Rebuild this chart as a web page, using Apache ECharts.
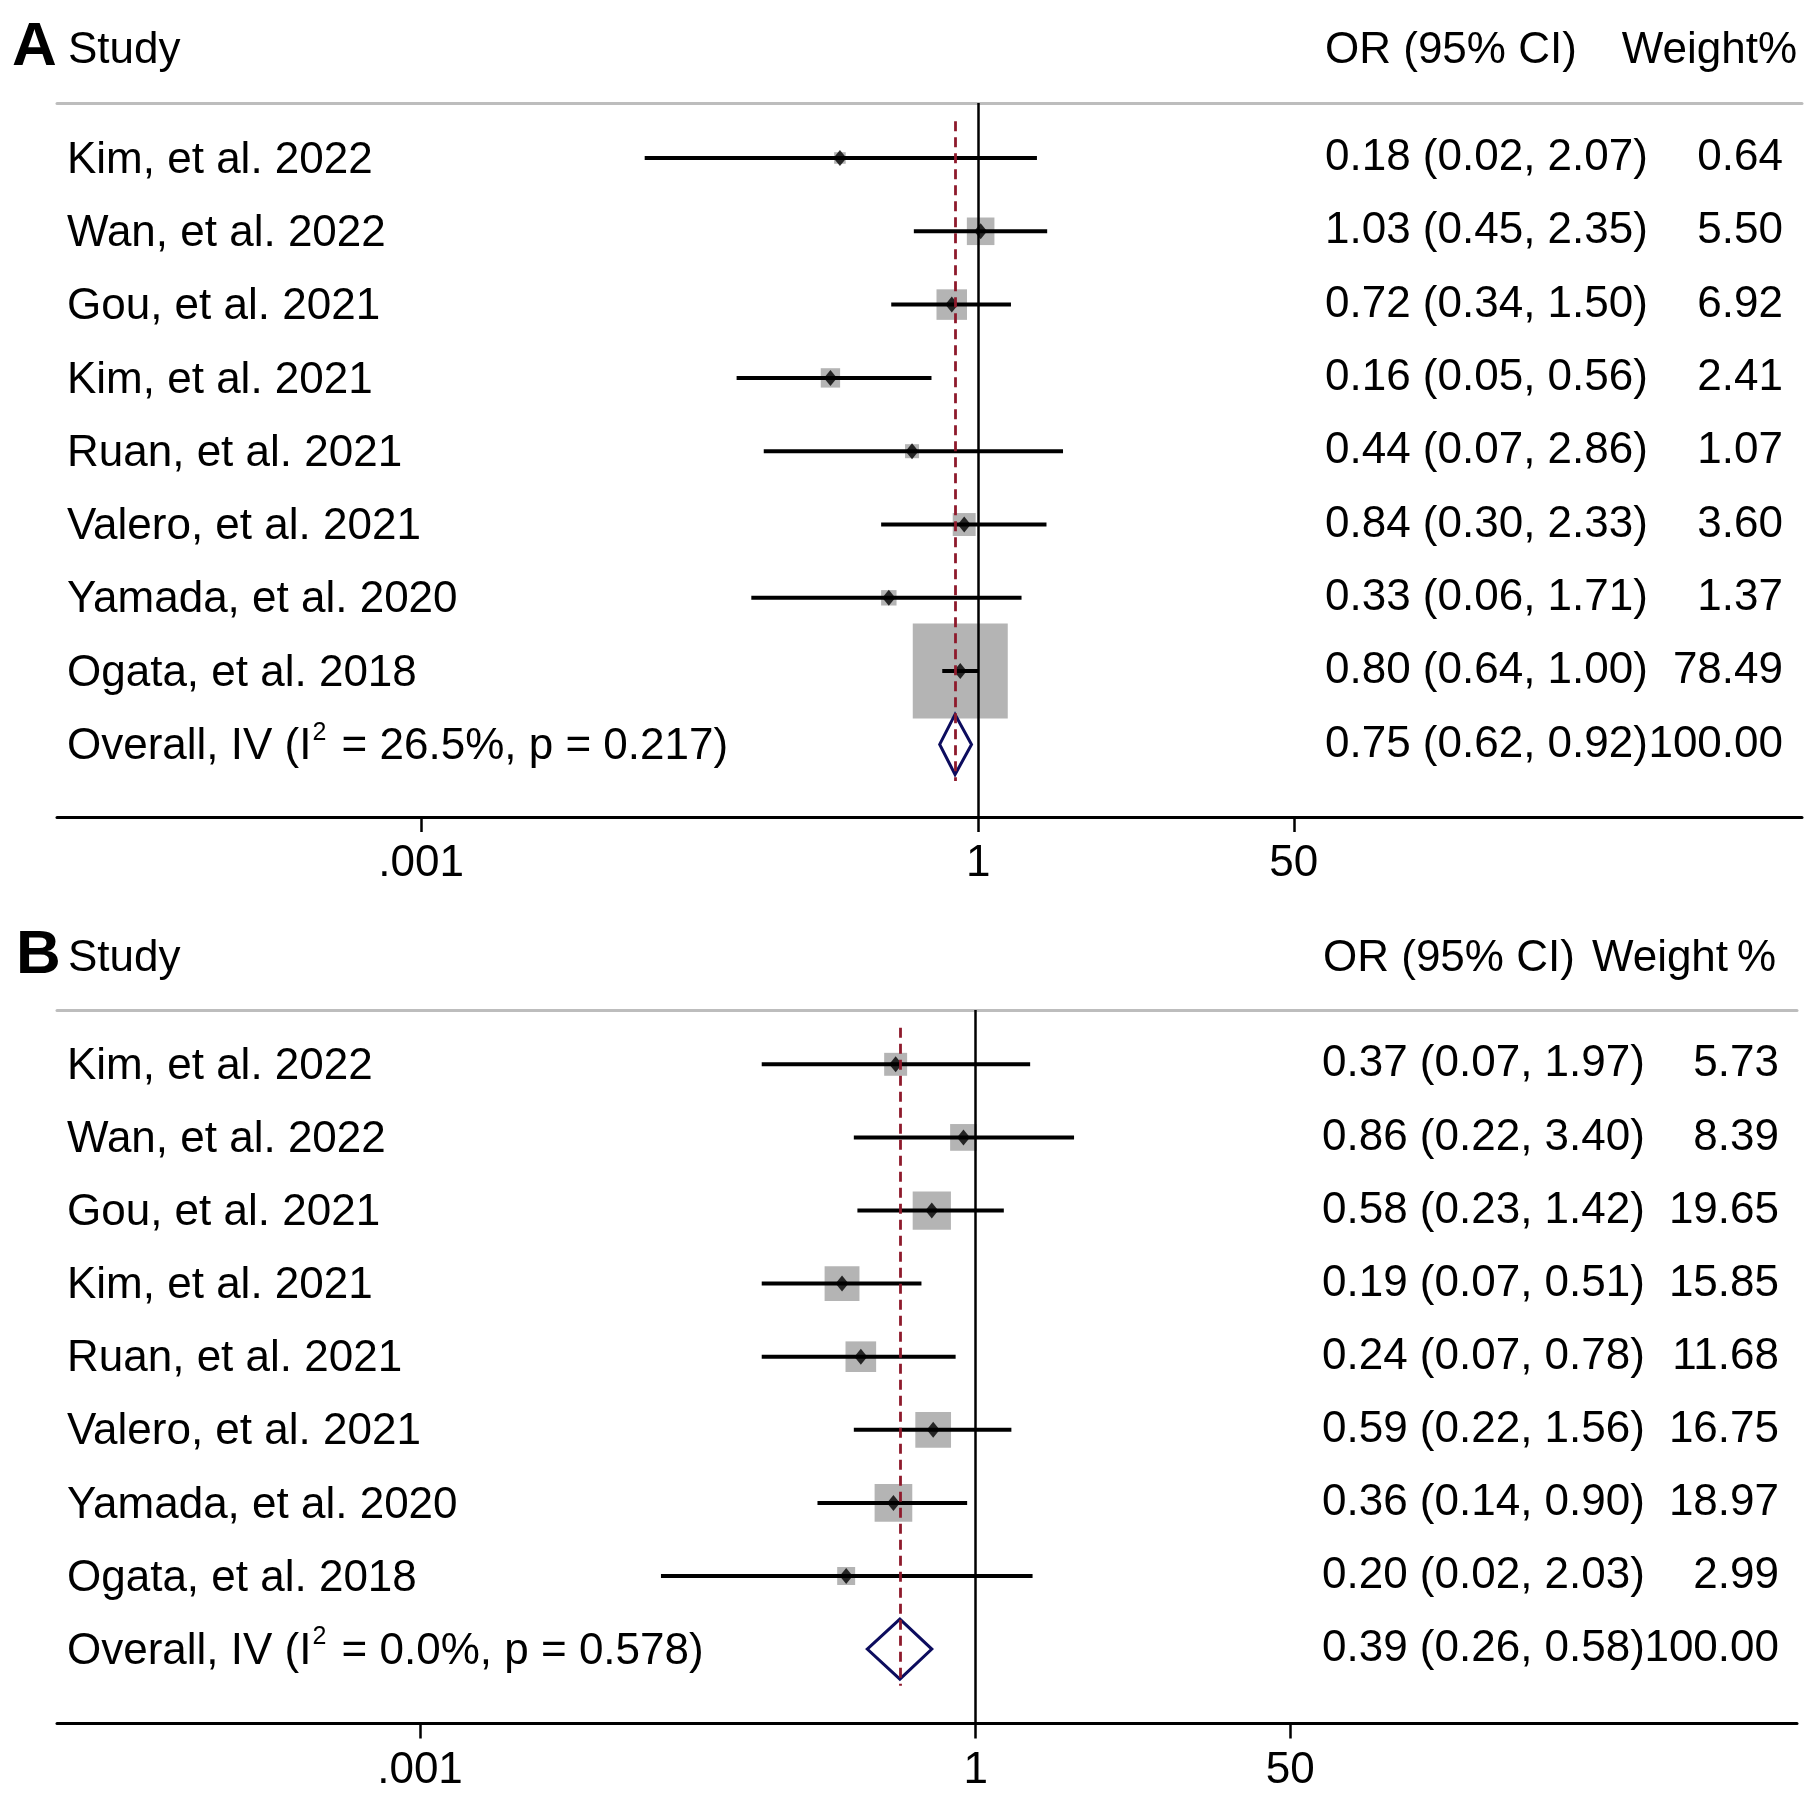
<!DOCTYPE html>
<html>
<head>
<meta charset="utf-8">
<title>Forest plot A / B</title>
<script src="https://cdn.jsdelivr.net/npm/echarts@6.0.0/dist/echarts.min.js"></script>
<style>
html, body { margin: 0; padding: 0; background: #fff; }
#chart { width: 1815px; height: 1795px; }
</style>
</head>
<body>
<div id="chart"></div>
<script>
// 研究名称 (两图共用)
const studies = ['Kim, et al. 2022', 'Wan, et al. 2022', 'Gou, et al. 2021', 'Kim, et al. 2021',
  'Ruan, et al. 2021', 'Valero, et al. 2021', 'Yamada, et al. 2020', 'Ogata, et al. 2018']

// 图 A
const orA = [0.18, 1.03, 0.72, 0.16, 0.44, 0.84, 0.33, 0.80]
const loA = [0.016, 0.45, 0.34, 0.05, 0.07, 0.30, 0.06, 0.64]
const hiA = [2.07, 2.35, 1.50, 0.56, 2.86, 2.33, 1.71, 1.00]
const weightA = [0.64, 5.50, 6.92, 2.41, 1.07, 3.60, 1.37, 78.49]
const overallA = [0.75, 0.62, 0.92]
const hetA = ['26.5%', '0.217']

// 图 B
const orB = [0.37, 0.86, 0.58, 0.19, 0.24, 0.59, 0.36, 0.20]
const loB = [0.07, 0.22, 0.23, 0.07, 0.07, 0.22, 0.14, 0.02]
const hiB = [1.97, 3.40, 1.42, 0.51, 0.78, 1.56, 0.90, 2.03]
const weightB = [5.73, 8.39, 19.65, 15.85, 11.68, 16.75, 18.97, 2.99]
const overallB = [0.39, 0.26, 0.58]
const hetB = ['0.0%', '0.578']

// x 轴刻度
const tickValues = [0.001, 1, 50]
const tickLabels = ['.001', '1', '50']

const font = "'Liberation Sans', Arial, sans-serif"
const FS = 44
const xMinLog = -4.96
const xMaxLog = 4.435

const grids = []
const xAxes = []
const yAxes = []
const series = []

function fmtTick (v) {
  let k = tickValues.findIndex(t => Math.abs(Math.log10(v) - Math.log10(t)) < 1e-6)
  return k >= 0 ? tickLabels[k] : ''
}

function addPanel (i, d, cfg) {
  let n = d.or.length
  let rows = []
  for (let r = 0; r <= n; r++) rows.push(r)

  let names = d.names.slice()
  names.push('Overall, IV (I{s|2} = ' + d.het[0] + ', p = ' + d.het[1] + ')')
  let orText = d.or.map((v, k) => v.toFixed(2) + ' (' + d.lo[k].toFixed(2) + ', ' + d.hi[k].toFixed(2) + ')')
  orText.push(d.overall[0].toFixed(2) + ' (' + d.overall[1].toFixed(2) + ', ' + d.overall[2].toFixed(2) + ')')
  let wText = d.w.map(v => v.toFixed(2))
  wText.push((100).toFixed(2))

  grids.push({left: cfg.left, top: cfg.top, width: cfg.width, height: cfg.height})

  let xBase = {
    type: 'log', logBase: 10, gridIndex: i,
    min: Math.pow(10, xMinLog), max: Math.pow(10, xMaxLog),
    splitLine: {show: false}
  }
  xAxes.push(Object.assign({}, xBase, {
    position: 'bottom',
    axisLine: {show: true, onZero: false, lineStyle: {color: '#000', width: 3}},
    axisTick: {show: true, customValues: tickValues, length: 15, lineStyle: {color: '#000', width: 2.5}},
    axisLabel: {show: true, customValues: tickValues, margin: 25, fontSize: FS, fontFamily: font, color: '#000', formatter: fmtTick}
  }))
  xAxes.push(Object.assign({}, xBase, {
    position: 'top',
    axisLine: {show: true, onZero: false, lineStyle: {color: '#bdbdbd', width: 3}},
    axisTick: {show: false},
    axisLabel: {show: false}
  }))

  let yBase = {
    type: 'value', gridIndex: i, inverse: true, min: cfg.ymin, max: cfg.ymax,
    axisLine: {show: false, onZero: false}, axisTick: {show: false}, splitLine: {show: false}
  }
  let lab = {customValues: rows, fontSize: FS, fontFamily: font, color: '#000', padding: [5, 0, 0, 0]}
  yAxes.push(Object.assign({}, yBase, {
    position: 'left',
    axisLabel: Object.assign({}, lab, {
      align: 'left', margin: -10,
      formatter: v => names[Math.round(v)],
      rich: {s: {fontSize: 25, fontFamily: font, color: '#000', verticalAlign: 'middle', padding: [0, 3, 28, 1]}}
    })
  }))
  yAxes.push(Object.assign({}, yBase, {
    position: 'right',
    axisLabel: Object.assign({}, lab, {align: 'left', margin: cfg.orMargin, formatter: v => orText[Math.round(v)]})
  }))
  yAxes.push(Object.assign({}, yBase, {
    position: 'right',
    axisLabel: Object.assign({}, lab, {align: 'right', margin: cfg.wMargin, formatter: v => wText[Math.round(v)]})
  }))

  let xi = 2 * i
  let yi = 3 * i
  let pts = d.or.map((v, k) => [v, k])

  // 权重方块
  series.push({
    type: 'custom', xAxisIndex: xi, yAxisIndex: yi, z: 1, silent: true,
    data: d.or.map((v, k) => [v, k, d.w[k]]),
    encode: {x: 0, y: 1},
    renderItem: function (params, api) {
      let c = api.coord([api.value(0), api.value(1)])
      let s = cfg.boxBase + cfg.boxScale * Math.sqrt(api.value(2))
      return {type: 'rect', shape: {x: c[0] - s / 2, y: c[1] - s / 2, width: s, height: s}, style: {fill: '#b4b4b4'}}
    }
  })
  // 合并效应菱形
  series.push({
    type: 'custom', xAxisIndex: xi, yAxisIndex: yi, z: 1, silent: true,
    data: [[d.overall[0], d.overall[1], d.overall[2], n]],
    encode: {x: [0, 1, 2], y: 3},
    renderItem: function (params, api) {
      let row = api.value(3)
      let c = api.coord([api.value(0), row])
      let l = api.coord([api.value(1), row])
      let r = api.coord([api.value(2), row])
      let h = 30
      return {
        type: 'polygon',
        shape: {points: [[l[0], c[1]], [c[0], c[1] - h], [r[0], c[1]], [c[0], c[1] + h]]},
        style: {fill: '#fff', stroke: '#0c0c5e', lineWidth: 3}
      }
    }
  })
  // 参考线
  series.push({
    type: 'line', xAxisIndex: xi, yAxisIndex: yi, z: 2, data: [],
    markLine: {
      silent: true, symbol: ['none', 'none'], label: {show: false}, animation: false,
      data: [
        {xAxis: 1, lineStyle: {color: '#000', width: 2.5, type: 'solid'}},
        [{coord: [d.overall[0], -0.5], lineStyle: {color: '#8e1a2c', width: 2.8, type: [10, 6]}},
         {coord: [d.overall[0], n + 0.5]}]
      ]
    }
  })
  // 置信区间
  series.push({
    type: 'custom', xAxisIndex: xi, yAxisIndex: yi, z: 3, silent: true,
    data: d.or.map((v, k) => [d.lo[k], d.hi[k], k]),
    encode: {x: [0, 1], y: 2},
    renderItem: function (params, api) {
      let a = api.coord([api.value(0), api.value(2)])
      let b = api.coord([api.value(1), api.value(2)])
      return {type: 'line', shape: {x1: a[0], y1: a[1], x2: b[0], y2: b[1]}, style: {stroke: '#000', lineWidth: 4}}
    }
  })
  // 点估计
  series.push({
    type: 'scatter', xAxisIndex: xi, yAxisIndex: yi, z: 4, silent: true,
    symbol: 'diamond', symbolSize: [13, 16],
    itemStyle: {color: '#000'},
    data: pts
  })
}

addPanel(0, {names: studies, or: orA, lo: loA, hi: hiA, w: weightA, overall: overallA, het: hetA},
  {left: 57, top: 103, width: 1745, height: 714, ymin: -0.75, ymax: 8.99, boxBase: 3.3, boxScale: 10.35, orMargin: -477, wMargin: -19})
addPanel(1, {names: studies, or: orB, lo: loB, hi: hiB, w: weightB, overall: overallB, het: hetB},
  {left: 57, top: 1010, width: 1740, height: 713.5, ymin: -0.743, ymax: 9.018, boxBase: 5, boxScale: 7.5, orMargin: -475, wMargin: -18})

function txt (s, x, y, align, size, weight) {
  return {
    type: 'text', x: x, y: y, silent: true,
    style: {text: s, fill: '#000', fontSize: size || FS, fontWeight: weight || 'normal', fontFamily: font,
      textAlign: align || 'left', textVerticalAlign: 'middle'}
  }
}

let option = {
  backgroundColor: '#fff',
  animation: false,
  grid: grids,
  xAxis: xAxes,
  yAxis: yAxes,
  series: series,
  graphic: [
    txt('A', 12, 48, 'left', 62, 'bold'),
    txt('Study', 68, 51),
    txt('OR (95% CI)', 1325, 51),
    txt('Weight%', 1797, 51, 'right'),
    txt('B', 16, 956, 'left', 62, 'bold'),
    txt('Study', 68, 959),
    txt('OR (95% CI)', 1323, 959),
    txt('Weight\u2009%', 1776, 959, 'right')
  ]
}

let myChart = echarts.init(document.getElementById('chart'))
myChart.setOption(option)
</script>
</body>
</html>
